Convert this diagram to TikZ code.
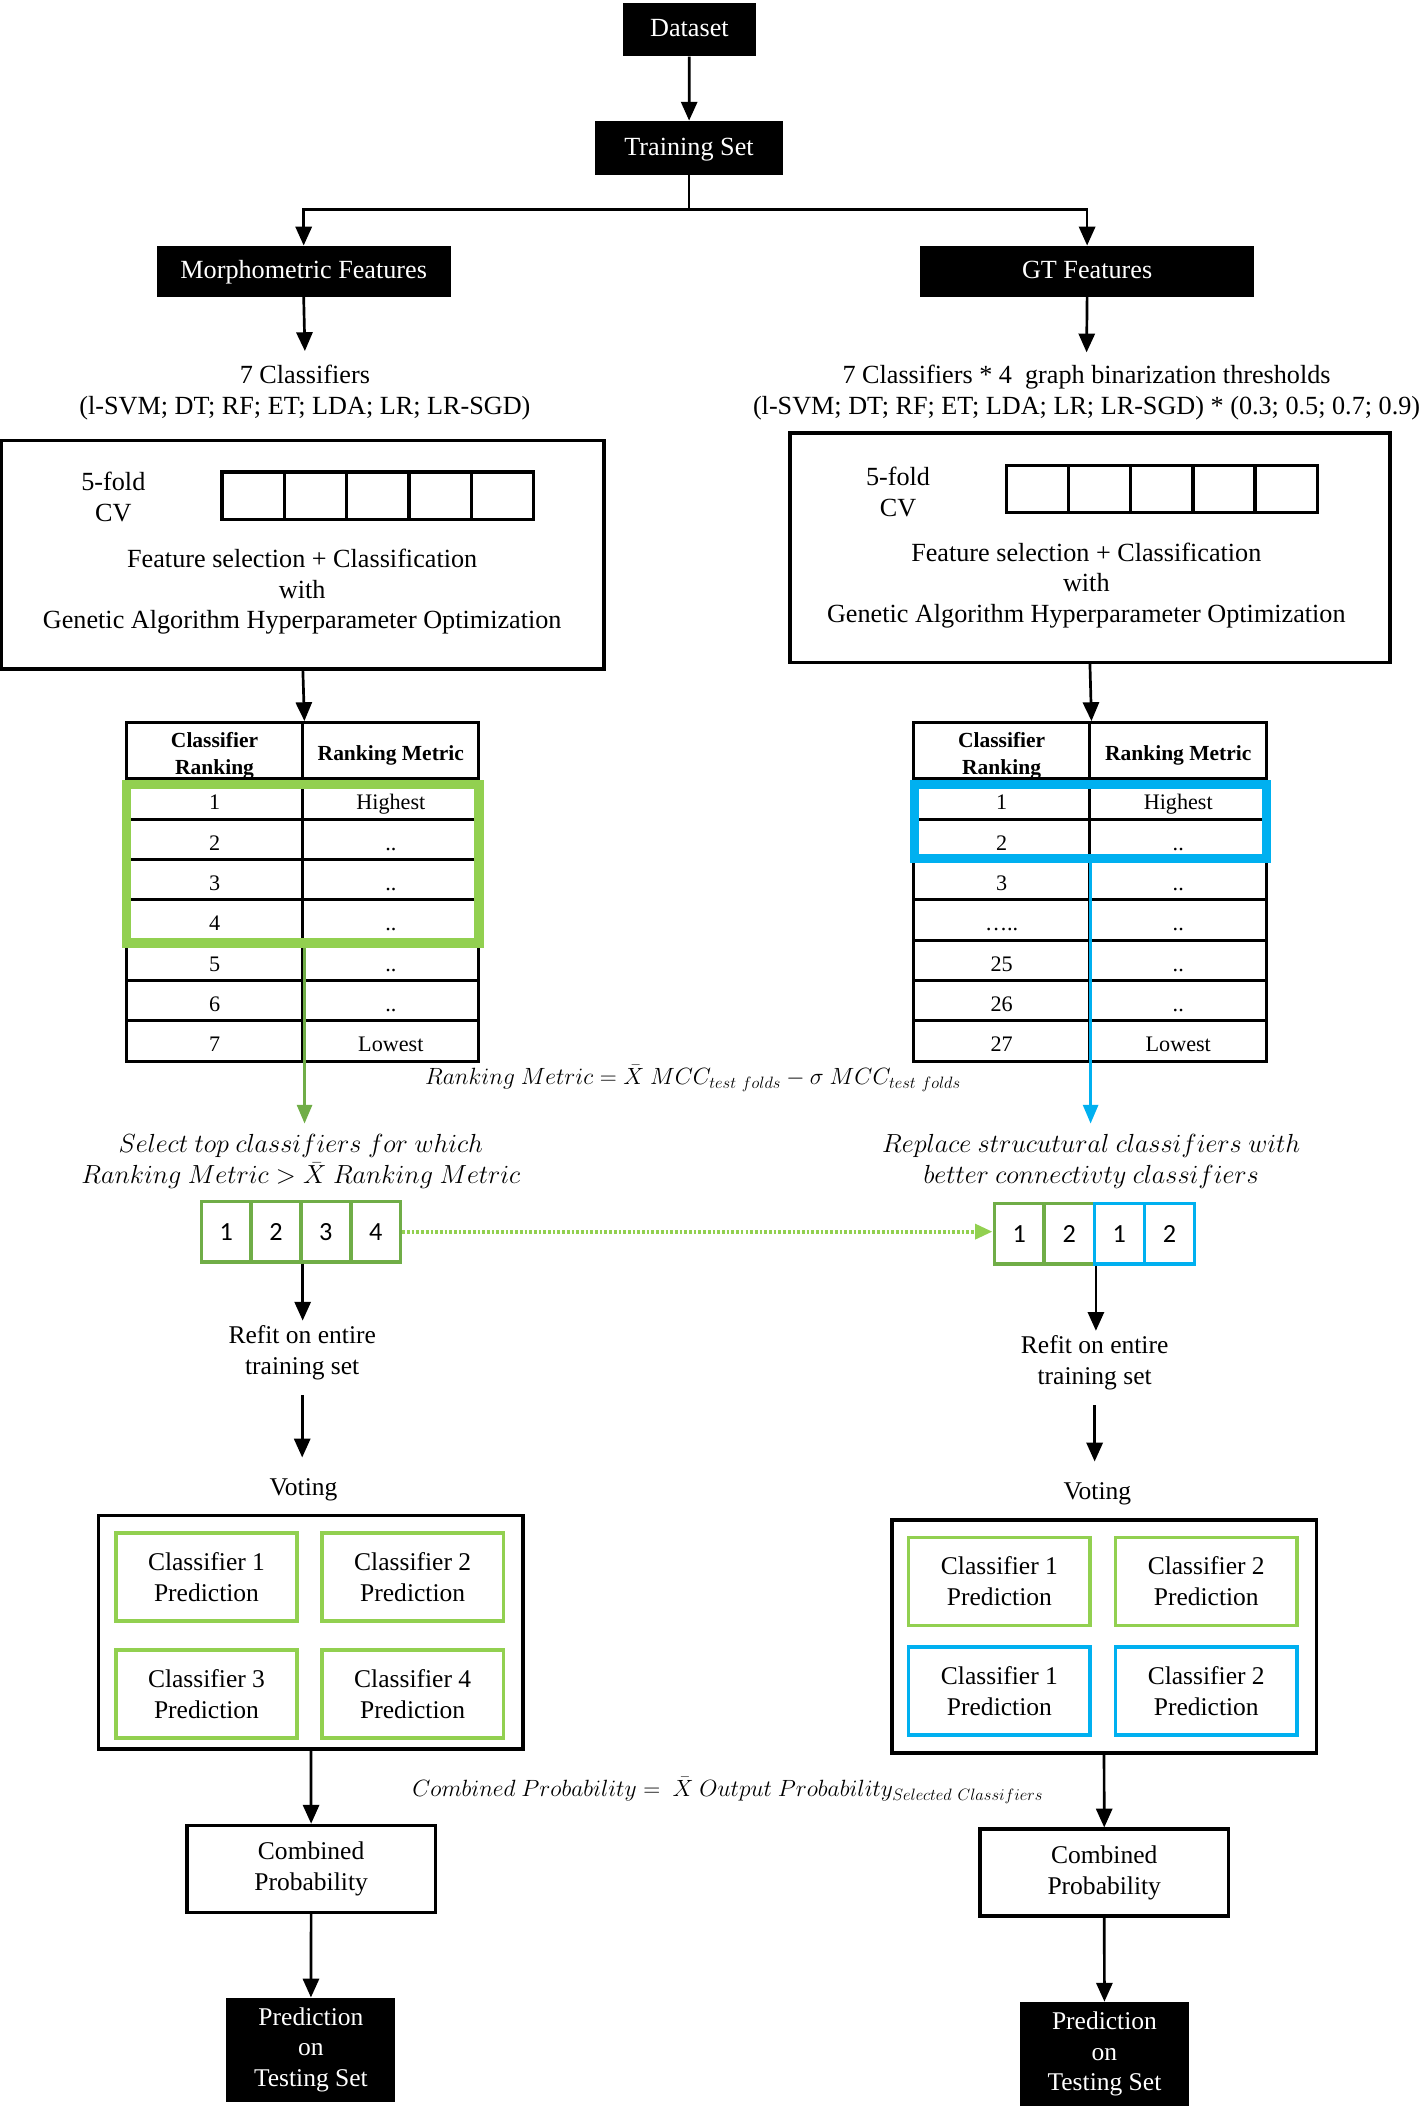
\RequirePackage{fix-cm}
\documentclass[tikz,border=0pt]{standalone}
\usepackage{fontspec}
\setmainfont{Liberation Serif}
\newfontfamily\numfont{Carlito}
\usetikzlibrary{arrows.meta}
\definecolor{lgreen}{HTML}{92D050}
\definecolor{dgreen}{HTML}{70AD47}
\definecolor{cblue}{HTML}{00B0F0}
\newcommand\fmain{\fontsize{19.5}{23}\selectfont}
\newcommand\fvote{\fontsize{19}{23}\selectfont}
\newcommand\ftab{\fontsize{16.5}{20}\selectfont}
\newcommand\fhead{\fontsize{16}{20}\selectfont\bfseries}
\newcommand\fmath{\fontsize{17.5}{23}\selectfont}
\newcommand\fital{\fontsize{19.5}{23}\selectfont}
\newcommand\fnum{\numfont\fontsize{19.5}{23}\selectfont}
\newcommand\dd{..}
\newcommand\ddd{\ldots..}
\begin{document}
\begin{tikzpicture}[x=1pt,y=-1pt,
 arr/.style={line width=2pt,-{Triangle[length=14pt,width=12pt]}},
 carr/.style={line width=2.5pt,-{Triangle[length=14pt,width=11pt]}},
 blackbox/.style={fill=black,text=white,font=\fmain,align=center,inner sep=0pt,text height=14.5pt,text depth=3.5pt},
 blackvote/.style={fill=black,text=white,font=\fvote,align=center,inner sep=0pt},
 txt/.style={font=\fmain,align=center},
 vtxt/.style={font=\fvote,align=center},
 bigbox/.style={draw,line width=2.6pt,inner sep=0pt},
 fold/.style={draw,line width=2.4pt,minimum width=46.4pt,minimum height=35pt,inner sep=0pt},
 cell/.style={draw,line width=2.3pt,inner sep=0pt,minimum height=30pt,text height=16pt,text depth=0pt,font=\ftab},
 hcell/.style={draw,line width=2.3pt,inner sep=0pt,minimum height=42pt},
 htxt/.style={font=\fhead,align=center,inner sep=0pt},
 hcellone/.style={draw,line width=2.3pt,inner sep=0pt,minimum height=42pt,font=\fhead,align=center,text height=15pt,text depth=0pt},
 sbox/.style={draw,line width=2.5pt,minimum width=37.2pt,minimum height=45pt,inner sep=0pt,font=\fnum},
 pbox/.style={draw,line width=2.5pt,minimum width=135pt,minimum height=65.5pt,inner sep=0pt,font=\fvote,align=center},
 wbox/.style={draw,line width=2.6pt,minimum width=185pt,minimum height=64.7pt,inner sep=0pt,font=\fvote,align=center}
]
\useasboundingbox (0,0) rectangle (1058,1568);

% top
\node[blackbox,minimum width=99pt,minimum height=40pt] (ds) at (513.3,22) {Dataset};
\node[blackbox,minimum width=140pt,minimum height=40pt] (ts) at (513,110) {Training Set};
\node[blackbox,minimum width=218.7pt,minimum height=38pt] (morph) at (226.1,202) {Morphometric Features};
\node[blackbox,minimum width=248.5pt,minimum height=38pt] (gt) at (809.4,202) {GT Features};
\coordinate (split) at (513,155.9);
\draw[arr] (ds) -- (ts);
\draw[line width=2pt] (ts.south) -- (split);
\draw[arr] (split) -| (morph.north);
\draw[arr] (split) -| (gt.north);

\node[txt,inner ysep=10pt] (clsL) at (227,292) {7 Classifiers\\(l-SVM; DT; RF; ET; LDA; LR; LR-SGD)};
\node[txt,inner ysep=9pt] (clsR) at (809,292) {7 Classifiers * 4 \ graph binarization thresholds\\(l-SVM; DT; RF; ET; LDA; LR; LR-SGD) * (0.3; 0.5; 0.7; 0.9)};
\draw[arr] (morph.south) -- (clsL.north);
\draw[arr] (gt.south) -- (clsR.north);

% big boxes
\node[bigbox,minimum width=448.4pt,minimum height=170pt] (bxL) at (225.5,413) {};
\node[txt] (cvL) at (84.4,370) {5-fold\\CV};
\foreach \i in {1,...,5}{
  \node[fold] (fL\i) at ({165.3+23.2+46.4*(\i-1)},369) {};
}
\node[txt] (fsL) at (225,440.5) {Feature selection + Classification\\with\\Genetic Algorithm Hyperparameter Optimization};

\node[bigbox,minimum width=447pt,minimum height=170.7pt] (bxR) at (811.5,407.85) {};
\node[txt] (cvR) at (668.6,366) {5-fold\\CV};
\foreach \i in {1,...,5}{
  \node[fold] (fR\i) at ({749.3+23.15+46.3*(\i-1)},364.25) {};
}
\node[txt] (fsR) at (808.8,436) {Feature selection + Classification\\with\\Genetic Algorithm Hyperparameter Optimization};

% left table
\node[hcell,minimum width=131.5pt] (hL1) at (159.75,559) {};
\node[htxt] (hL1t) at (159.75,563) {Classifier\\Ranking};
\node[hcellone,minimum width=131pt] (hL2) at (291,559) {Ranking Metric};
\foreach \i/\b in {1/Highest,2/\dd,3/\dd,4/\dd,5/\dd,6/\dd,7/Lowest}{
  \node[cell,minimum width=131.5pt] (lA\i) at (159.75,{565+30*\i}) {\i};
  \node[cell,minimum width=131pt] (lB\i) at (291,{565+30*\i}) {\b};
}
% right table
\node[hcell,minimum width=131.5pt] (hR1) at (745.75,559) {};
\node[htxt] (hR1t) at (745.75,563) {Classifier\\Ranking};
\node[hcellone,minimum width=131.5pt] (hR2) at (877.25,559) {Ranking Metric};
\foreach \i/\a/\b in {1/1/Highest,2/2/\dd,3/3/\dd,4/\ddd/\dd,5/25/\dd,6/26/\dd,7/27/Lowest}{
  \node[cell,minimum width=131.5pt] (rA\i) at (745.75,{565+30*\i}) {\a};
  \node[cell,minimum width=131.5pt] (rB\i) at (877.25,{565+30*\i}) {\b};
}
\draw[arr] (bxL.south) -- (hL1.north east);
\draw[arr] (bxR.south) -- (hR1.north east);

% highlights
\node[draw=lgreen,line width=7pt,minimum width=262.5pt,minimum height=118pt,inner sep=0pt] (gL) at (225.25,643) {};
\node[draw=cblue,line width=7pt,minimum width=262pt,minimum height=55pt,inner sep=0pt] (bR) at (812,611.5) {};

% formula
\node[font=\fmath] (fRM) at (516,803) {$Ranking\ Metric = \bar{X}\ MCC_{test\ folds} - \sigma\ MCC_{test\ folds}$};

% selection texts
\node[font=\fital,align=center,inner ysep=8pt] (selL) at (224,865) {$Select\ top\ classifiers\ for\ which$\\$Ranking\ Metric > \bar{X}\ Ranking\ Metric$};
\node[font=\fital,align=center,inner ysep=8pt] (selR) at (812.5,865) {$Replace\ strucutural\ classifiers\ with$\\$better\ connectivty\ classifiers$};
\draw[carr,dgreen] ([xshift=1.5pt]gL.south) -- ([xshift=1.5pt]gL.south |- selL.north);
\draw[carr,cblue] (bR.south) -- (bR.south |- selR.north);

% small boxes
\foreach \i in {1,...,4}{
  \node[sbox,draw=dgreen] (sL\i) at ({149.8+18.6+37.1*(\i-1)},917) {\i};
}
\node[sbox,draw=dgreen] (sR1) at (758.8,918.6) {1};
\node[sbox,draw=dgreen] (sR2) at (796.1,918.6) {2};
\node[sbox,draw=cblue] (sR3) at (833.4,918.6) {1};
\node[sbox,draw=cblue] (sR4) at (870.7,918.6) {2};
\draw[lgreen,line width=3pt,dash pattern=on 2pt off 1.5pt,-{Triangle[length=13pt,width=11pt]}] (sL4.east) -- (sR1.west |- sL4.east);

% refit and voting
\node[vtxt] (refitL) at (225,1007) {Refit on entire\\training set};
\node[vtxt] (refitR) at (815,1014.6) {Refit on entire\\training set};
\draw[arr] (sL2.south east) -- (sL2.south east |- refitL.north);
\draw[arr] (sR2.south east) -- (sR2.south east |- refitR.north);
\node[vtxt] (votL) at (226,1109) {Voting};
\node[vtxt] (votR) at (817,1112) {Voting};
\draw[arr,shorten <=8pt,shorten >=12pt] (refitL.south) -- (refitL.south |- votL.north);
\draw[arr,shorten <=8pt,shorten >=12pt] (refitR.south) -- (refitR.south |- votR.north);

\node[bigbox,minimum width=316pt,minimum height=173.8pt] (vbL) at (231.5,1215.3) {};
\node[pbox,draw=lgreen] (pL1) at (153.75,1174.15) {Classifier 1\\Prediction};
\node[pbox,draw=lgreen] (pL2) at (307.25,1174.15) {Classifier 2\\Prediction};
\node[pbox,draw=lgreen] (pL3) at (153.75,1261.25) {Classifier 3\\Prediction};
\node[pbox,draw=lgreen] (pL4) at (307.25,1261.25) {Classifier 4\\Prediction};

\node[bigbox,minimum width=316pt,minimum height=173.4pt] (vbR) at (822,1218.3) {};
\node[pbox,draw=lgreen] (pR1) at (744.1,1177.5) {Classifier 1\\Prediction};
\node[pbox,draw=lgreen] (pR2) at (898.1,1177.5) {Classifier 2\\Prediction};
\node[pbox,draw=cblue] (pR3) at (744.1,1258.9) {Classifier 1\\Prediction};
\node[pbox,draw=cblue] (pR4) at (898.1,1258.9) {Classifier 2\\Prediction};

\node[font=\fmath] (fCP) at (541.9,1333) {$Combined\ Probability =\ \bar{X}\ Output\ Probability_{Selected\ Classifiers}$};

\node[wbox] (cpL) at (231.65,1391.45) {Combined\\Probability};
\node[wbox] (cpR) at (822.15,1394.25) {Combined\\Probability};
\node[blackvote,minimum width=125.8pt,minimum height=77.6pt] (prL) at (231.5,1526.2) {Prediction\\on\\Testing Set};
\node[blackvote,minimum width=125.4pt,minimum height=77.5pt] (prR) at (822.3,1529.25) {Prediction\\on\\Testing Set};

\draw[arr] (vbL.south) -- (cpL.north);
\draw[arr] (cpL.south) -- (prL.north);
\draw[arr] (vbR.south) -- (cpR.north);
\draw[arr] (cpR.south) -- (prR.north);
\end{tikzpicture}
\end{document}
